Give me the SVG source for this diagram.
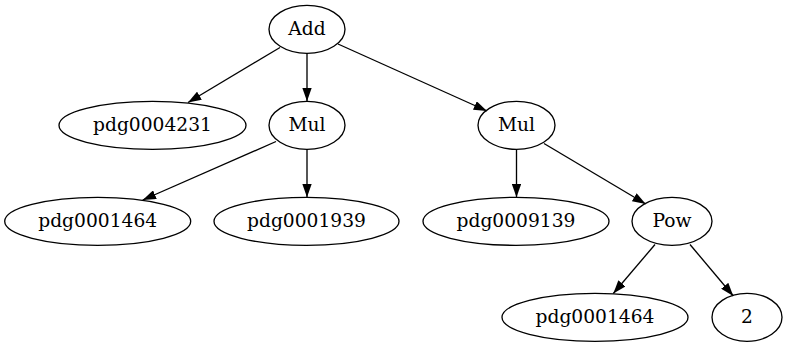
<svg xmlns="http://www.w3.org/2000/svg" width="790" height="347" viewBox="0 0 790 347">
<style>
.n ellipse{fill:none;stroke:#000;stroke-width:1.33}
.n text{font-family:"DejaVu Serif",serif;font-size:18.67px;text-anchor:middle;fill:#000}
.e line{stroke:#000;stroke-width:1.33;marker-end:url(#ah)}
</style>
<defs>
<marker id="ah" viewBox="0 0 13.33 9.33" refX="13.33" refY="4.67" markerWidth="13.33" markerHeight="9.33" markerUnits="userSpaceOnUse" orient="auto">
<path d="M0,0 L13.33,4.67 L0,9.33 z" fill="#000"/>
</marker>
</defs>
<rect width="790" height="347" fill="#fff"/>
<g class="e" id="edges">
<line x1="280" y1="47.5" x2="188" y2="102.5"/>
<line x1="307" y1="53.3" x2="307" y2="101.3"/>
<line x1="338" y1="44" x2="487" y2="111"/>
<line x1="276" y1="141.5" x2="142.7" y2="200"/>
<line x1="307" y1="149.3" x2="307" y2="197.3"/>
<line x1="516.5" y1="149.3" x2="516.5" y2="197.3"/>
<line x1="544" y1="143.5" x2="645.7" y2="204"/>
<line x1="655" y1="244.5" x2="613.3" y2="293.5"/>
<line x1="690" y1="244.5" x2="733.3" y2="296"/>
</g>
<g class="n" id="add"><ellipse cx="307" cy="29.3" rx="38" ry="24"/><text x="307" y="35">Add</text></g>
<g class="n" id="pdg0004231"><ellipse cx="152.5" cy="125.3" rx="93.5" ry="24"/><text x="152.5" y="131">pdg0004231</text></g>
<g class="n" id="mul1"><ellipse cx="307" cy="125.3" rx="38" ry="24"/><text x="307" y="131">Mul</text></g>
<g class="n" id="mul2"><ellipse cx="516.5" cy="125.3" rx="38.5" ry="24"/><text x="516.5" y="131">Mul</text></g>
<g class="n" id="pdg0001464a"><ellipse cx="97.7" cy="221.3" rx="93" ry="24"/><text x="97.7" y="227">pdg0001464</text></g>
<g class="n" id="pdg0001939"><ellipse cx="306.5" cy="221.3" rx="92.5" ry="24"/><text x="306.5" y="227">pdg0001939</text></g>
<g class="n" id="pdg0009139"><ellipse cx="516" cy="221.3" rx="93" ry="24"/><text x="516" y="227">pdg0009139</text></g>
<g class="n" id="pow"><ellipse cx="672" cy="221.3" rx="40" ry="24"/><text x="672" y="227">Pow</text></g>
<g class="n" id="pdg0001464b"><ellipse cx="595" cy="317.3" rx="93" ry="24"/><text x="595" y="323">pdg0001464</text></g>
<g class="n" id="two"><ellipse cx="747" cy="317.3" rx="35" ry="24"/><text x="747" y="323">2</text></g>
</svg>
